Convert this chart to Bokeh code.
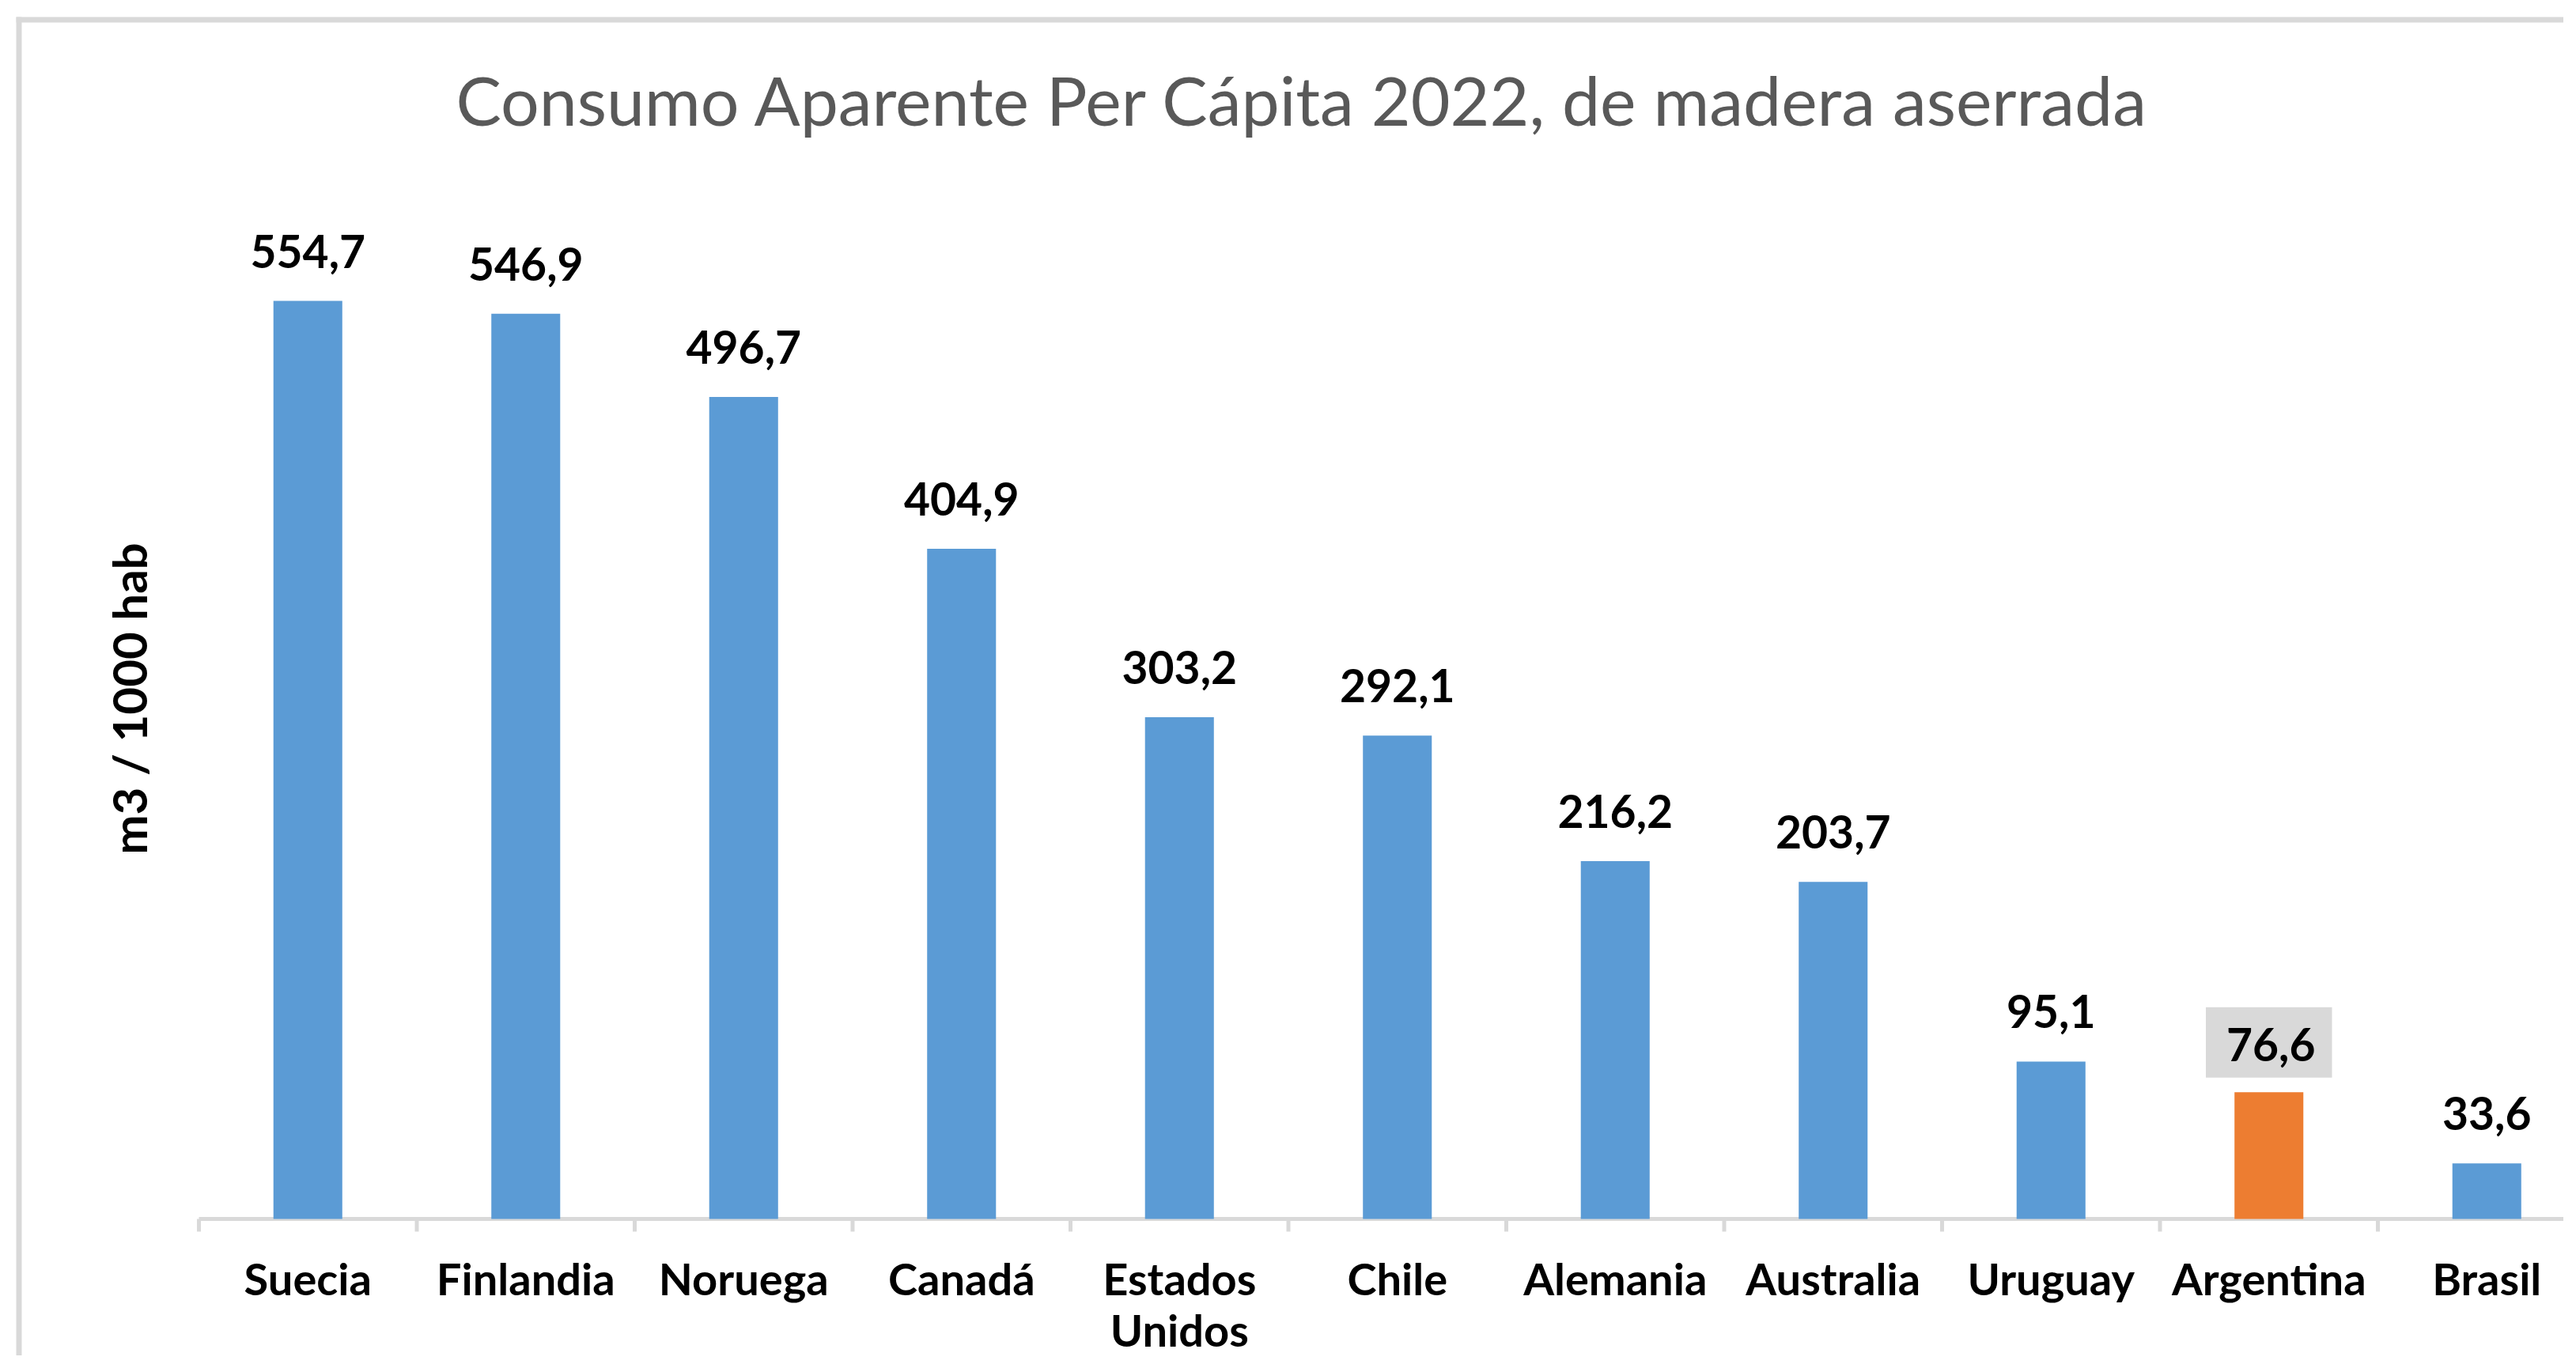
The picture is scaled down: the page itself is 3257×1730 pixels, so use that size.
import math
from bokeh.plotting import figure
from bokeh.models import Range1d, BoxAnnotation, ColumnDataSource
from bokeh.core.properties import value
from bokeh.embed import file_html
from bokeh.resources import INLINE

# ---------------- data ----------------
countries = ["Suecia", "Finlandia", "Noruega", "Canadá", "Estados Unidos", "Chile",
             "Alemania", "Australia", "Uruguay", "Argentina", "Brasil"]
tick_labels = ["Suecia", "Finlandia", "Noruega", "Canadá", "Estados\nUnidos", "Chile",
               "Alemania", "Australia", "Uruguay", "Argentina", "Brasil"]
consumo = [554.7, 546.9, 496.7, 404.9, 303.2, 292.1, 216.2, 203.7, 95.1, 76.6, 33.6]
highlight = "Argentina"
title_text = "Consumo  Aparente Per Cápita 2022, de madera aserrada"
y_title = "m3 / 1000 hab"

# ---------------- layout (pixels of the picture) ----------------
W, H, M = 3241, 1714, 0
CAT_PX = 275.5        # width of one category slot
X_EDGE = 251          # left edge of first category
PX_PER_UNIT = 2.093   # vertical scale
Y_BASE = 1541         # baseline


def xd(px):
    return -0.5 + (px - X_EDGE) / CAT_PX


def yd(py):
    return (Y_BASE - py) / PX_PER_UNIT


BLUE = "#5b9bd5"
ORANGE = "#ed7d31"
GRID = "#d9d9d9"
FONT = value("Lato")

p = figure(width=W, height=H,
           x_range=Range1d(xd(M), xd(M + W)), y_range=Range1d(yd(M + H), yd(M)),
           x_axis_type=None, y_axis_type=None, toolbar_location=None,
           output_backend="svg", min_border=0, outline_line_color=None)
p.background_fill_color = "white"
p.border_fill_color = "white"

# chart-area border (top and left visible)
p.add_layout(BoxAnnotation(left=xd(20), right=xd(3400), top=yd(21), bottom=yd(28),
                           fill_color=GRID, fill_alpha=1, line_color=None))
p.add_layout(BoxAnnotation(left=xd(20), right=xd(27), top=yd(21), bottom=yd(1900),
                           fill_color=GRID, fill_alpha=1, line_color=None))

idx = list(range(len(countries)))
colors = [ORANGE if c == highlight else BLUE for c in countries]
labels = [f"{v:.1f}".replace(".", ",") for v in consumo]

src = ColumnDataSource(dict(x=idx, top=consumo, color=colors, label=labels, tick=tick_labels))

# category axis line and tick marks
n = len(countries)
p.segment(x0=[-0.5], x1=[n - 0.5], y0=[0], y1=[0], line_color=GRID, line_width=5)
bounds = [i - 0.5 for i in range(n + 1)]
p.segment(x0=bounds, x1=bounds, y0=[0] * len(bounds), y1=[yd(1557)] * len(bounds),
          line_color=GRID, line_width=5)

# bars
p.vbar(x="x", top="top", bottom=0, width=0.316, fill_color="color", line_color=None, source=src)

# value labels
norm = [i for i, c in enumerate(countries) if c != highlight]
hi = [i for i, c in enumerate(countries) if c == highlight]
p.text(x=[idx[i] for i in norm], y=[consumo[i] for i in norm], text=[labels[i] for i in norm],
       y_offset=-63, text_align="center", text_baseline="middle",
       text_font=FONT, text_font_style="bold", text_font_size="57px", text_color="black")
p.text(x=[idx[i] for i in hi], y=[consumo[i] for i in hi], text=[labels[i] for i in hi],
       y_offset=-63, text_align="center", text_baseline="middle",
       text_font=FONT, text_font_style="bold", text_font_size="57px", text_color="black",
       background_fill_color=GRID, padding=(26, 21, 26, 21))

# category labels
p.text(x="x", y=yd(1582), text="tick", source=src, text_align="center", text_baseline="top",
       text_font=FONT, text_font_style="bold", text_font_size="56px", text_color="black",
       text_line_height=0.98)

# y-axis title
p.text(x=[xd(162)], y=[yd(883)], text=[y_title], angle=math.pi / 2,
       text_align="center", text_baseline="middle",
       text_font=FONT, text_font_style="bold", text_font_size="60px", text_color="black")

# chart title
p.text(x=[xd(1658)], y=[yd(125)], text=[title_text], text_align="center", text_baseline="middle",
       text_font=FONT, text_font_size="86px", text_color="#595959")

open("out.html", "w").write(file_html(p, INLINE))
